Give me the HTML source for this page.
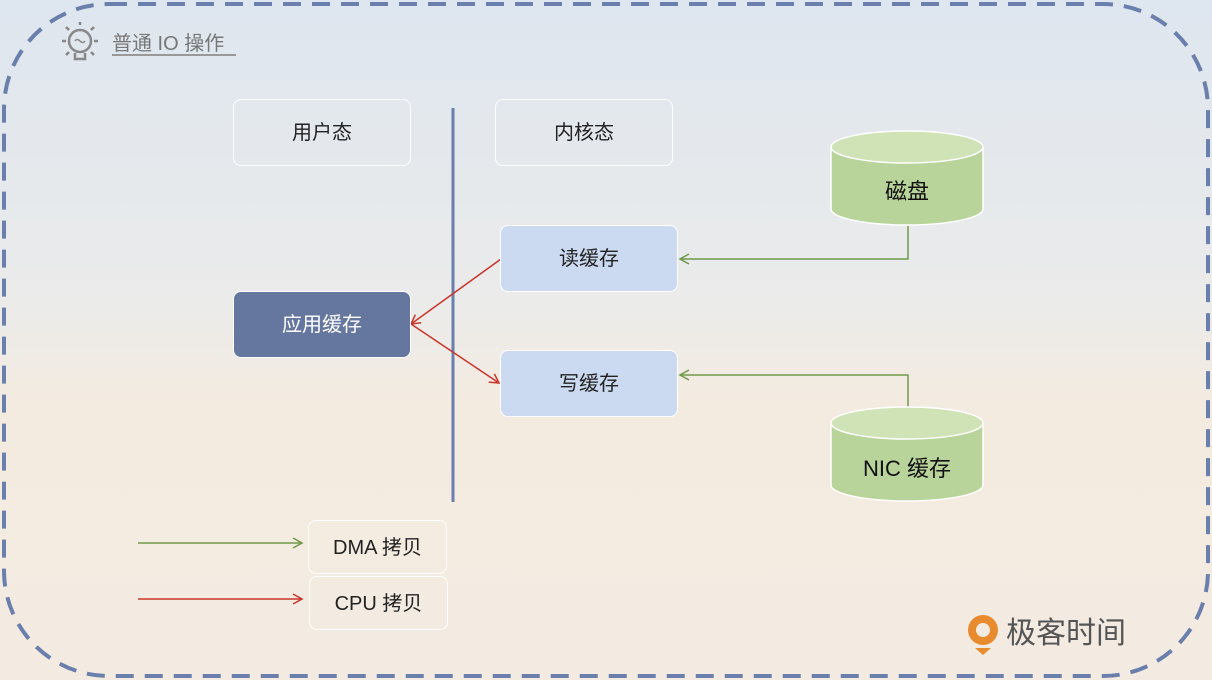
<!DOCTYPE html>
<html><head><meta charset="utf-8"><style>
body{margin:0;width:1212px;height:680px;overflow:hidden;font-family:"Liberation Sans","Noto Sans CJK SC",sans-serif;}
.bg{position:absolute;left:0;top:0;width:1212px;height:680px;background:linear-gradient(180deg,#dee6ef 0%,#ebebea 45%,#f4ebe0 60%,#f3ebe2 100%);}
.box{position:absolute;box-sizing:border-box;border-radius:8px;display:flex;align-items:center;justify-content:center;font-size:20px;color:#222;padding-bottom:4px;}
.w{border:1.5px solid #fff;}
.b{background:#cbdaf0;border:1.5px solid #fff;}
</style></head><body>
<div class="bg"></div>
<svg width="1212" height="680" style="position:absolute;left:0;top:0">
<defs>
<marker id="g" markerWidth="12" markerHeight="12" refX="10" refY="6" orient="auto" markerUnits="userSpaceOnUse"><path d="M1,1 L10,6 L1,11" fill="none" stroke="#6f9a4a" stroke-width="1.5"/></marker>
<marker id="r" markerWidth="12" markerHeight="12" refX="10" refY="6" orient="auto" markerUnits="userSpaceOnUse"><path d="M1,1 L10,6 L1,11" fill="none" stroke="#c9352b" stroke-width="1.5"/></marker>
</defs>
<rect x="4" y="4" width="1204" height="672" rx="105" fill="none" stroke="#6a7fab" stroke-width="4" stroke-dasharray="18 11"/>
<line x1="453" y1="108" x2="453" y2="502" stroke="#6a7fab" stroke-width="3"/>
<polyline points="908,226 908,259 680,259" fill="none" stroke="#6f9a4a" stroke-width="1.5" marker-end="url(#g)"/>
<polyline points="908,407 908,375 680,375" fill="none" stroke="#6f9a4a" stroke-width="1.5" marker-end="url(#g)"/>
<line x1="501" y1="259" x2="411" y2="324" stroke="#c9352b" stroke-width="1.5" marker-end="url(#r)"/>
<line x1="411" y1="324" x2="499" y2="383" stroke="#c9352b" stroke-width="1.5" marker-end="url(#r)"/>
<line x1="138" y1="543" x2="302" y2="543" stroke="#6f9a4a" stroke-width="1.5" marker-end="url(#g)"/>
<line x1="138" y1="599" x2="302" y2="599" stroke="#c9352b" stroke-width="1.5" marker-end="url(#r)"/>
<g stroke="#fff" stroke-width="1.5" fill="#b9d49a">
<path d="M831,147 L831,209 A76,16 0 0 0 983,209 L983,147"/>
<ellipse cx="907" cy="147" rx="76" ry="16" fill="#cfe3b6"/>
<path d="M831,423 L831,485 A76,16 0 0 0 983,485 L983,423"/>
<ellipse cx="907" cy="423" rx="76" ry="16" fill="#cfe3b6"/>
</g>
<text x="907" y="199" font-size="22" text-anchor="middle" fill="#111" font-family="Liberation Sans,Noto Sans CJK SC,sans-serif">磁盘</text>
<text x="907" y="476" font-size="22" text-anchor="middle" fill="#111" font-family="Liberation Sans,Noto Sans CJK SC,sans-serif">NIC 缓存</text>
<g stroke="#888" stroke-width="2.5" fill="none">
<circle cx="80" cy="41" r="11"/>
<path d="M75,53 L75,59 L85,59 L85,53"/>
<path d="M62,41 h4 M94,41 h4 M66,27 l3,3 M94,27 l-3,3 M80,22 v3 M66,55 l3,-3 M94,55 l-3,-3"/>
<path d="M75,41 q2,-3 5,0 q3,3 5,0" stroke-width="1.5"/>
</g>
<text x="112" y="50" font-size="20" fill="#777" font-family="Liberation Sans,Noto Sans CJK SC,sans-serif">普通 IO 操作</text>
<line x1="112" y1="55" x2="236" y2="55" stroke="#999" stroke-width="2"/>
<circle cx="983" cy="630" r="15" fill="#e88a2e"/>
<circle cx="983" cy="630" r="7" fill="#f3ebe2"/>
<path d="M975,648 L991,648 L983,655 Z" fill="#e88a2e"/>
<text x="1006" y="643" font-size="30" fill="#555" font-family="Liberation Sans,Noto Sans CJK SC,sans-serif">极客时间</text>
</svg>
<div class="box w" style="left:233px;top:99px;width:178px;height:67px">用户态</div>
<div class="box w" style="left:495px;top:99px;width:178px;height:67px">内核态</div>
<div class="box b" style="left:500px;top:225px;width:178px;height:67px">读缓存</div>
<div class="box b" style="left:500px;top:350px;width:178px;height:67px">写缓存</div>
<div class="box" style="left:233px;top:291px;width:178px;height:67px;background:#65779f;color:#fff;border:1.5px solid #fff">应用缓存</div>
<div class="box w" style="left:308px;top:520px;width:139px;height:54px">DMA 拷贝</div>
<div class="box w" style="left:309px;top:576px;width:139px;height:54px">CPU 拷贝</div>
</body></html>
